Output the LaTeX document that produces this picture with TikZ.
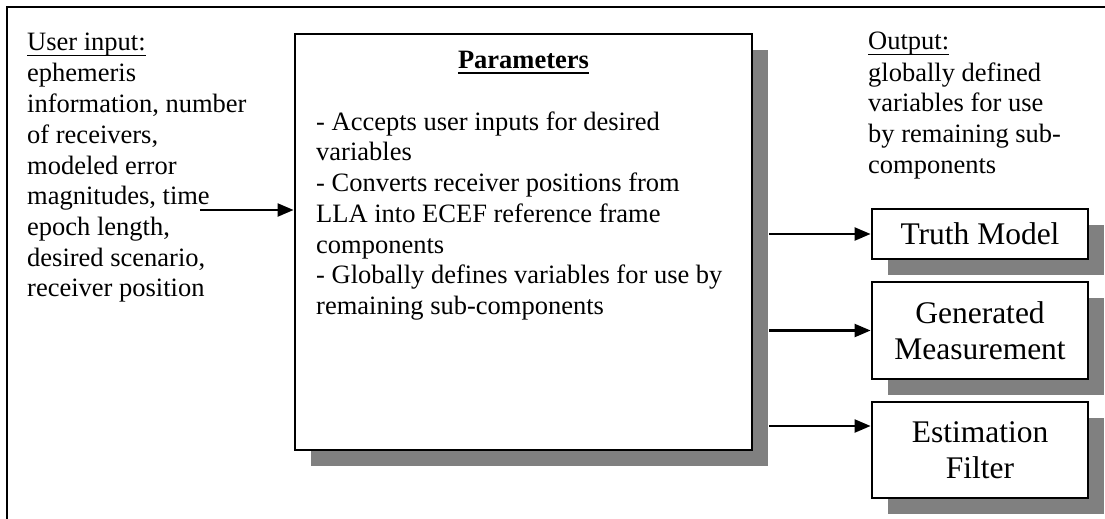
\documentclass[tikz,border=0pt]{standalone}
\usepackage{fontspec}
\setmainfont{Liberation Serif}
\usetikzlibrary{arrows.meta,shadows}
\definecolor{shadowgray}{HTML}{808080}
\newcommand{\bodyfont}{\fontsize{26.5}{30.7}\selectfont}
\newcommand{\boxfont}{\fontsize{31.5}{36}\selectfont}
\newcommand{\topstrut}{\rule{0pt}{20pt}}

\begin{document}
\begin{tikzpicture}[x=1pt,y=-1pt,
  txt/.style={inner sep=0pt, font=\bodyfont, align=left, anchor=north west},
  heading/.style={inner sep=0pt, font=\bodyfont, anchor=base west},
  uline/.style={line width=1.5pt},
  boxed/.style={draw, line width=2.8pt, fill=white,
    drop shadow={shadow xshift=16pt, shadow yshift=-16pt, fill=shadowgray, opacity=1}},
  obox/.style={boxed, minimum width=216pt, font=\boxfont, align=center, inner sep=0pt},
  link/.style={line width=2.2pt, -{Triangle[length=16pt,width=13pt]}},
  frame/.style={line width=2.6pt}]

\useasboundingbox (0,0) rectangle (1105,519);

% outer frame
\draw[frame] (1115,7) -- (7,7) -- (7,530);

% user input column
\node[heading] (uih) at (27,51) {User input:};
\draw[uline] ([yshift=-4.5pt]uih.base west) -- ([yshift=-4.5pt]uih.base east);
\node[txt] (uib) at (27,61.7) {\topstrut ephemeris\\information, number\\of receivers,\\modeled error\\magnitudes, time\\epoch length,\\desired scenario,\\receiver position};

% parameters block
\node[boxed, minimum width=457pt, minimum height=416pt, inner sep=0pt] (par) at (523.5,242) {};
\node[heading, font=\bodyfont\bfseries, anchor=base] (ptitle) at (523.5,68) {Parameters};
\draw[uline] ([yshift=-5pt]ptitle.base west) -- ([yshift=-5pt]ptitle.base east);
\node[txt] (pbody) at (316,110) {\topstrut - Accepts user inputs for desired\\variables\\- Converts receiver positions from\\LLA into ECEF reference frame\\components\\- Globally defines variables for use by\\remaining sub-components};

% output column
\node[heading] (outh) at (868,50) {Output:};
\draw[uline] ([yshift=-4.5pt]outh.base west) -- ([yshift=-4.5pt]outh.base east);
\node[txt] (outb) at (868,61) {\topstrut globally defined\\variables for use\\by remaining sub-\\components};

% sub-components
\node[obox, minimum height=50pt] (tm) at (980,234) {Truth Model};
\node[obox, minimum height=97pt] (gm) at (980,330.5) {Generated\\Measurement};
\node[obox, minimum height=96pt] (ef) at (980,450) {Estimation\\Filter};

% connectors
\coordinate (inp) at (200,210);
\coordinate (pedge) at ([xshift=16pt]par.east);
\coordinate (efin) at ([yshift=24pt]ef.west);
\draw[link] (inp) -- (inp -| par.west);
\draw[link] (pedge |- tm.west) -- (tm.west);
\draw[link] (pedge |- gm.west) -- (gm.west);
\draw[link] (pedge |- efin) -- (efin);
\end{tikzpicture}
\end{document}
